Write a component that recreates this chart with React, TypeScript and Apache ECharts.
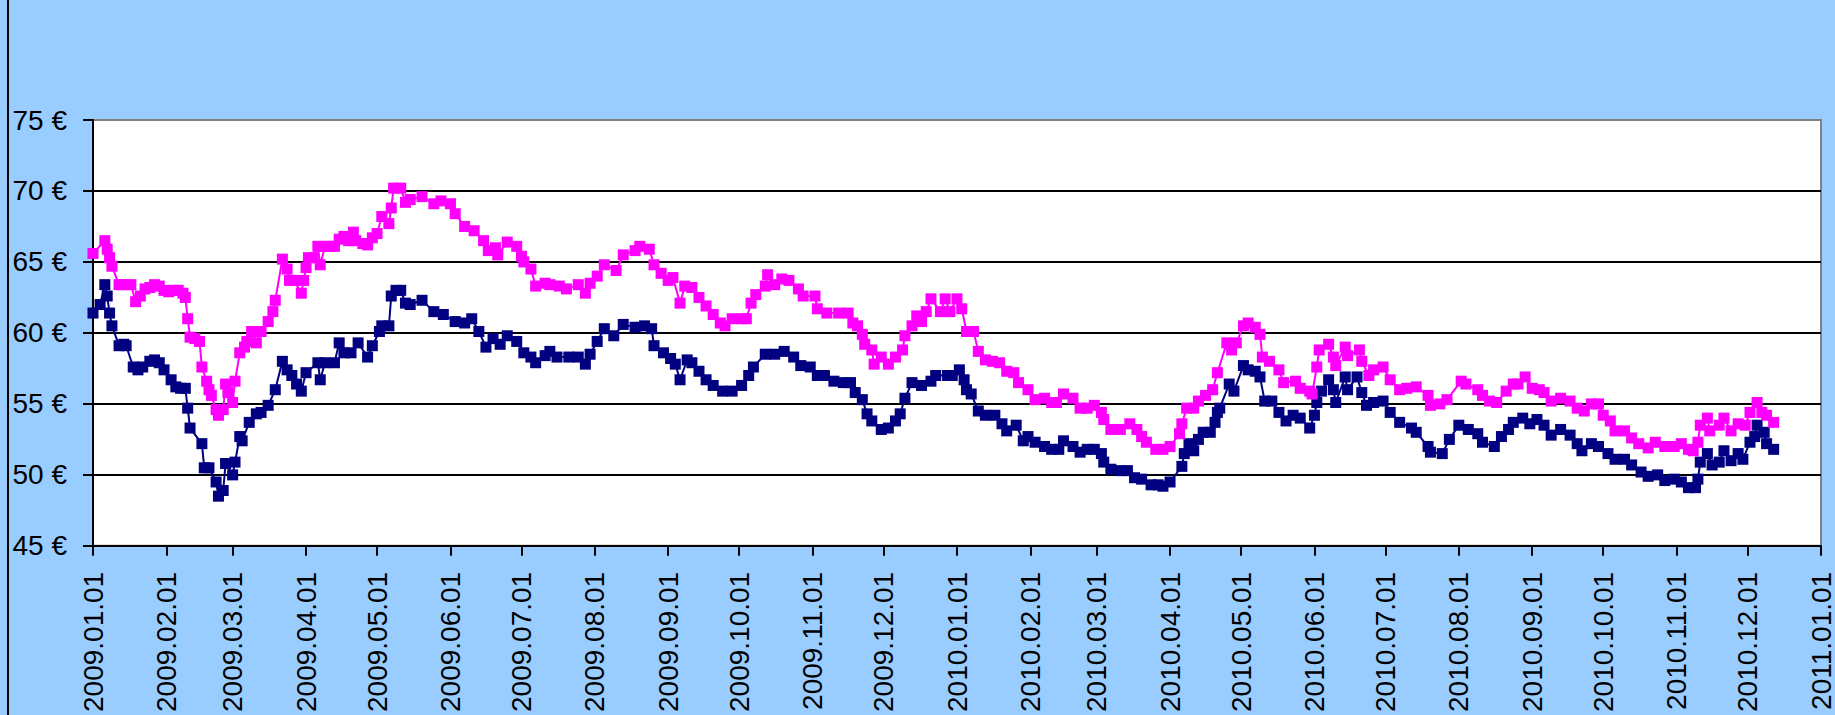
import React, { useEffect, useRef } from "react";
import * as echarts from "echarts";

// Month tick labels of the date axis
const monthTicks = [
  "2009.01.01", "2009.02.01", "2009.03.01", "2009.04.01", "2009.05.01", "2009.06.01",
  "2009.07.01", "2009.08.01", "2009.09.01", "2009.10.01", "2009.11.01", "2009.12.01",
  "2010.01.01", "2010.02.01", "2010.03.01", "2010.04.01", "2010.05.01", "2010.06.01",
  "2010.07.01", "2010.08.01", "2010.09.01", "2010.10.01", "2010.11.01", "2010.12.01",
  "2011.01.01",
];

// Price axis
const priceMin = 45;
const priceMax = 75;
const priceStep = 5;

// [days since 2009-01-01, price €]  (navy series)
const navySeries: [number, number][] = [
  [0, 61.4], [3, 62.0], [5, 63.4], [6, 62.6], [7, 61.4], [8, 60.5], [11, 59.1], [13, 59.2], [14, 59.1],
  [17, 57.6], [19, 57.4], [21, 57.6], [24, 58.0], [26, 58.1], [28, 57.9], [30, 57.4], [33, 56.7],
  [35, 56.2], [37, 56.1], [39, 56.1], [40, 54.7], [41, 53.3], [46, 52.2], [47, 50.5], [49, 50.5],
  [52, 49.5], [53, 48.5], [55, 48.9], [56, 50.8], [59, 50.0], [60, 50.9], [62, 52.7], [63, 52.4],
  [66, 53.7], [69, 54.3], [71, 54.4], [74, 54.9], [77, 56.0], [80, 58.0], [82, 57.4], [84, 57.0],
  [86, 56.4], [88, 55.9], [90, 57.2], [95, 57.9], [96, 56.7], [98, 57.9], [102, 57.9], [104, 59.3],
  [106, 58.6], [109, 58.6], [112, 59.3], [116, 58.3], [118, 59.1], [121, 60.1], [122, 60.5],
  [125, 60.5], [126, 62.6], [128, 63.0], [130, 63.0], [132, 62.1], [134, 62.0], [139, 62.3],
  [144, 61.5], [148, 61.3], [153, 60.8], [157, 60.7], [160, 61.0], [163, 60.1], [166, 59.0],
  [169, 59.6], [172, 59.2], [175, 59.8], [179, 59.4], [182, 58.6], [185, 58.3], [187, 57.9],
  [191, 58.4], [193, 58.7], [196, 58.3], [201, 58.3], [205, 58.3], [208, 57.8], [210, 58.5],
  [213, 59.4], [216, 60.3], [220, 59.8], [224, 60.6], [229, 60.4], [233, 60.5], [236, 60.3],
  [237, 59.1], [241, 58.6], [244, 58.2], [246, 57.8], [248, 56.7], [251, 58.1], [253, 57.9],
  [256, 57.3], [259, 56.7], [262, 56.3], [266, 55.9], [270, 55.9], [274, 56.3], [277, 57.0],
  [279, 57.6], [284, 58.5], [288, 58.5], [292, 58.7], [296, 58.3], [299, 57.7], [303, 57.6],
  [306, 57.0], [309, 57.0], [313, 56.6], [317, 56.5], [320, 56.5], [322, 55.8], [325, 55.3],
  [327, 54.3], [329, 53.8], [333, 53.2], [336, 53.3], [339, 53.8], [341, 54.3], [343, 55.4],
  [346, 56.5], [350, 56.3], [354, 56.6], [356, 57.0], [361, 57.0], [363, 57.0], [366, 57.4],
  [368, 56.7], [369, 56.0], [371, 55.7], [374, 54.5], [377, 54.2], [381, 54.2], [384, 53.6],
  [386, 53.1], [390, 53.5], [393, 52.4], [395, 52.7], [398, 52.3], [402, 52.0], [405, 51.8],
  [408, 51.8], [410, 52.4], [414, 52.0], [417, 51.6], [420, 51.8], [423, 51.8], [426, 51.5],
  [427, 50.9], [430, 50.4], [434, 50.3], [437, 50.3], [440, 49.8], [443, 49.7], [447, 49.3],
  [450, 49.3], [452, 49.2], [455, 49.5], [460, 50.6], [461, 51.5], [463, 52.2], [465, 51.7],
  [467, 52.5], [469, 53.0], [472, 53.0], [474, 53.7], [475, 54.4], [476, 54.7], [480, 56.4],
  [482, 55.9], [486, 57.7], [488, 57.4], [491, 57.3], [493, 56.9], [495, 55.2], [498, 55.2],
  [501, 54.4], [504, 53.8], [507, 54.2], [510, 54.0], [514, 53.3], [516, 54.2], [517, 55.1],
  [519, 55.9], [522, 56.7], [524, 56.0], [525, 55.1], [529, 56.9], [530, 56.0], [534, 56.9],
  [536, 55.8], [538, 54.9], [541, 55.1], [545, 55.2], [548, 54.4], [552, 53.7], [557, 53.3],
  [559, 53.0], [564, 52.0], [565, 51.6], [570, 51.5], [573, 52.5], [577, 53.5], [581, 53.2],
  [585, 52.9], [587, 52.3], [592, 52.0], [595, 52.7], [598, 53.2], [600, 53.7], [604, 54.0],
  [607, 53.6], [610, 53.9], [613, 53.5], [616, 52.8], [620, 53.2], [624, 52.8], [627, 52.2],
  [629, 51.7], [633, 52.2], [636, 52.0], [640, 51.5], [643, 51.1], [647, 51.1], [650, 50.7],
  [654, 50.2], [657, 49.9], [661, 50.0], [664, 49.6], [668, 49.7], [671, 49.5], [674, 49.1],
  [677, 49.1], [678, 49.7], [679, 50.9], [682, 51.5], [684, 50.7], [687, 50.9], [689, 51.7],
  [692, 51.0], [695, 51.5], [697, 51.1], [700, 52.3], [702, 52.7], [703, 53.5], [706, 53.0],
  [707, 52.2], [710, 51.8],
];

// [days since 2009-01-01, price €]  (magenta series)
const magentaSeries: [number, number][] = [
  [0, 65.6], [5, 66.5], [6, 65.9], [7, 65.3], [8, 64.7], [11, 63.4], [13, 63.4], [16, 63.4],
  [18, 62.2], [20, 62.6], [22, 63.1], [24, 63.2], [26, 63.4], [28, 63.3], [30, 63.0], [32, 62.9],
  [34, 63.0], [36, 63.0], [38, 62.8], [39, 62.5], [40, 61.0], [41, 59.7], [43, 59.6], [45, 59.4],
  [46, 57.6], [48, 56.6], [49, 56.0], [50, 55.6], [52, 54.6], [53, 54.2], [55, 54.6], [56, 56.4],
  [57, 55.8], [59, 55.1], [60, 56.6], [62, 58.6], [64, 59.0], [65, 59.4], [67, 60.1], [69, 59.3],
  [71, 60.1], [74, 60.8], [76, 61.5], [77, 62.3], [80, 65.2], [82, 64.5], [83, 63.7], [85, 63.7],
  [88, 62.8], [89, 63.7], [90, 64.6], [91, 65.3], [93, 65.3], [95, 66.1], [96, 64.8], [98, 66.1],
  [100, 66.1], [102, 66.1], [104, 66.6], [106, 66.8], [108, 66.5], [110, 67.1], [111, 66.5],
  [114, 66.3], [116, 66.2], [118, 66.7], [120, 67.0], [122, 68.2], [125, 67.7], [126, 68.8],
  [127, 70.2], [130, 70.2], [132, 69.2], [134, 69.4], [139, 69.6], [144, 69.1], [147, 69.3],
  [151, 69.1], [153, 68.4], [157, 67.5], [161, 67.2], [165, 66.5], [167, 65.8], [170, 66.0],
  [171, 65.5], [175, 66.4], [179, 66.1], [181, 65.4], [182, 65.0], [185, 64.5], [187, 63.3],
  [191, 63.5], [193, 63.4], [197, 63.3], [200, 63.1], [205, 63.4], [208, 62.8], [210, 63.5],
  [213, 64.0], [216, 64.8], [221, 64.4], [224, 65.5], [229, 65.8], [231, 66.1], [235, 65.9],
  [237, 64.8], [240, 64.2], [243, 63.7], [245, 63.9], [248, 62.1], [250, 63.3], [253, 63.2],
  [256, 62.5], [259, 61.9], [262, 61.3], [265, 60.7], [267, 60.5], [270, 61.0], [274, 61.0],
  [276, 61.0], [278, 62.1], [280, 62.7], [284, 63.3], [285, 64.1], [288, 63.4], [291, 63.8],
  [294, 63.7], [298, 63.1], [300, 62.6], [305, 62.6], [306, 61.7], [310, 61.4], [315, 61.4],
  [319, 61.4], [321, 60.7], [323, 60.5], [325, 59.9], [326, 59.2], [329, 58.8], [330, 57.8],
  [333, 58.3], [336, 57.8], [339, 58.3], [342, 58.8], [343, 59.8], [346, 60.5], [348, 61.2],
  [350, 60.8], [352, 61.5], [354, 62.4], [358, 61.5], [360, 62.4], [362, 61.5], [365, 62.4],
  [367, 61.7], [369, 60.1], [372, 60.1], [374, 58.7], [377, 58.1], [380, 58.0], [383, 57.9],
  [386, 57.3], [389, 57.2], [391, 56.5], [395, 56.0], [398, 55.3], [402, 55.4], [405, 55.1],
  [407, 55.1], [410, 55.7], [414, 55.4], [417, 54.7], [420, 54.7], [423, 54.9], [426, 54.4],
  [427, 53.9], [430, 53.2], [434, 53.2], [438, 53.6], [441, 53.2], [443, 52.7], [445, 52.3],
  [449, 51.8], [452, 51.8], [455, 52.0], [459, 52.9], [460, 53.6], [462, 54.7], [465, 54.7],
  [467, 55.2], [470, 55.6], [473, 56.0], [475, 57.2], [479, 59.3], [481, 58.8], [483, 59.3],
  [486, 60.5], [488, 60.7], [491, 60.4], [493, 59.9], [494, 58.3], [497, 58.0], [501, 57.4],
  [503, 56.5], [508, 56.6], [510, 56.1], [514, 55.9], [515, 55.7], [517, 57.6], [518, 58.8],
  [522, 59.2], [524, 58.3], [525, 57.7], [529, 59.0], [530, 58.4], [535, 58.8], [536, 58.0],
  [539, 57.0], [541, 57.4], [545, 57.6], [548, 56.7], [552, 56.0], [555, 56.1], [559, 56.2],
  [564, 55.6], [565, 54.9], [569, 55.0], [572, 55.3], [578, 56.6], [580, 56.4], [585, 56.0],
  [587, 55.6], [590, 55.2], [593, 55.1], [597, 55.9], [600, 56.4], [602, 56.4], [605, 56.9],
  [608, 56.1], [611, 56.0], [613, 55.8], [616, 55.2], [620, 55.4], [624, 55.2], [627, 54.7],
  [630, 54.5], [633, 55.0], [636, 55.0], [638, 54.2], [641, 53.8], [643, 53.1], [647, 53.1],
  [650, 52.6], [653, 52.2], [657, 51.9], [660, 52.3], [664, 52.0], [668, 52.0], [671, 52.2],
  [674, 51.8], [676, 51.7], [678, 52.3], [679, 53.5], [682, 54.0], [683, 53.1], [687, 53.5],
  [689, 54.0], [692, 53.1], [695, 53.6], [698, 53.5], [700, 54.4], [703, 55.1], [705, 54.4],
  [707, 54.2], [710, 53.7],
];

const BASE = Date.UTC(2009, 0, 1);
const toDay = (s: string) => {
  const [y, m, d] = s.split(".").map(Number);
  return Math.round((Date.UTC(y, m - 1, d) - BASE) / 86400000);
};

const FONT = "'Liberation Sans', Arial, sans-serif";

export default function App() {
  const ref = useRef<HTMLDivElement>(null);

  useEffect(() => {
    if (!ref.current) return;
    const chart = echarts.init(ref.current, null, { renderer: "svg" });
    const tickDays = monthTicks.map(toDay);

    chart.setOption({
      animation: false,
      backgroundColor: "#99CCFF",
      grid: {
        left: 93,
        top: 120,
        right: 13,
        bottom: 167,
        show: true,
        backgroundColor: "#ffffff",
        borderColor: "#808080",
        borderWidth: 2,
      },
      xAxis: {
        type: "value",
        min: tickDays[0],
        max: tickDays[tickDays.length - 1],
        axisLine: { show: true, onZero: false, lineStyle: { color: "#000", width: 2 } },
        axisTick: {
          show: true,
          length: 10,
          inside: false,
          customValues: tickDays,
          lineStyle: { color: "#000", width: 2 },
        },
        axisLabel: {
          show: true,
          customValues: tickDays,
          rotate: 90,
          margin: 26,
          color: "#000",
          fontSize: 28,
          fontFamily: FONT,
          showMinLabel: true,
          showMaxLabel: true,
          formatter: (v: number) => {
            const i = tickDays.indexOf(Math.round(v));
            return i >= 0 ? monthTicks[i] : "";
          },
        },
        splitLine: { show: false },
      },
      yAxis: {
        type: "value",
        min: priceMin,
        max: priceMax,
        interval: priceStep,
        axisLine: { show: true, onZero: false, lineStyle: { color: "#000", width: 2 } },
        axisTick: { show: true, length: 10, inside: false, lineStyle: { color: "#000", width: 2 } },
        axisLabel: {
          color: "#000",
          fontSize: 28,
          fontFamily: FONT,
          margin: 26,
          showMinLabel: true,
          showMaxLabel: true,
          formatter: (v: number) => `${v} €`,
        },
        splitLine: {
          show: true,
          showMinLine: false,
          showMaxLine: false,
          lineStyle: { color: "#000", width: 2 },
        },
      },
      graphic: [
        {
          type: "rect",
          shape: { x: 7, y: 0, width: 2, height: 715 },
          style: { fill: "#000" },
          z: 100,
        },
      ],
      series: [
        {
          type: "line",
          name: "navy",
          data: navySeries,
          symbol: "rect",
          symbolSize: 11,
          showAllSymbol: true,
          itemStyle: { color: "#000080" },
          lineStyle: { color: "#000080", width: 2 },
          emphasis: { disabled: true },
        },
        {
          type: "line",
          name: "magenta",
          data: magentaSeries,
          symbol: "rect",
          symbolSize: 11,
          showAllSymbol: true,
          itemStyle: { color: "#FF00FF" },
          lineStyle: { color: "#FF00FF", width: 2 },
          emphasis: { disabled: true },
        },
      ],
    });

    return () => chart.dispose();
  }, []);

  return (
    <div
      ref={ref}
      style={{ position: "fixed", left: 0, top: 0, width: 1835, height: 715 }}
    />
  );
}
